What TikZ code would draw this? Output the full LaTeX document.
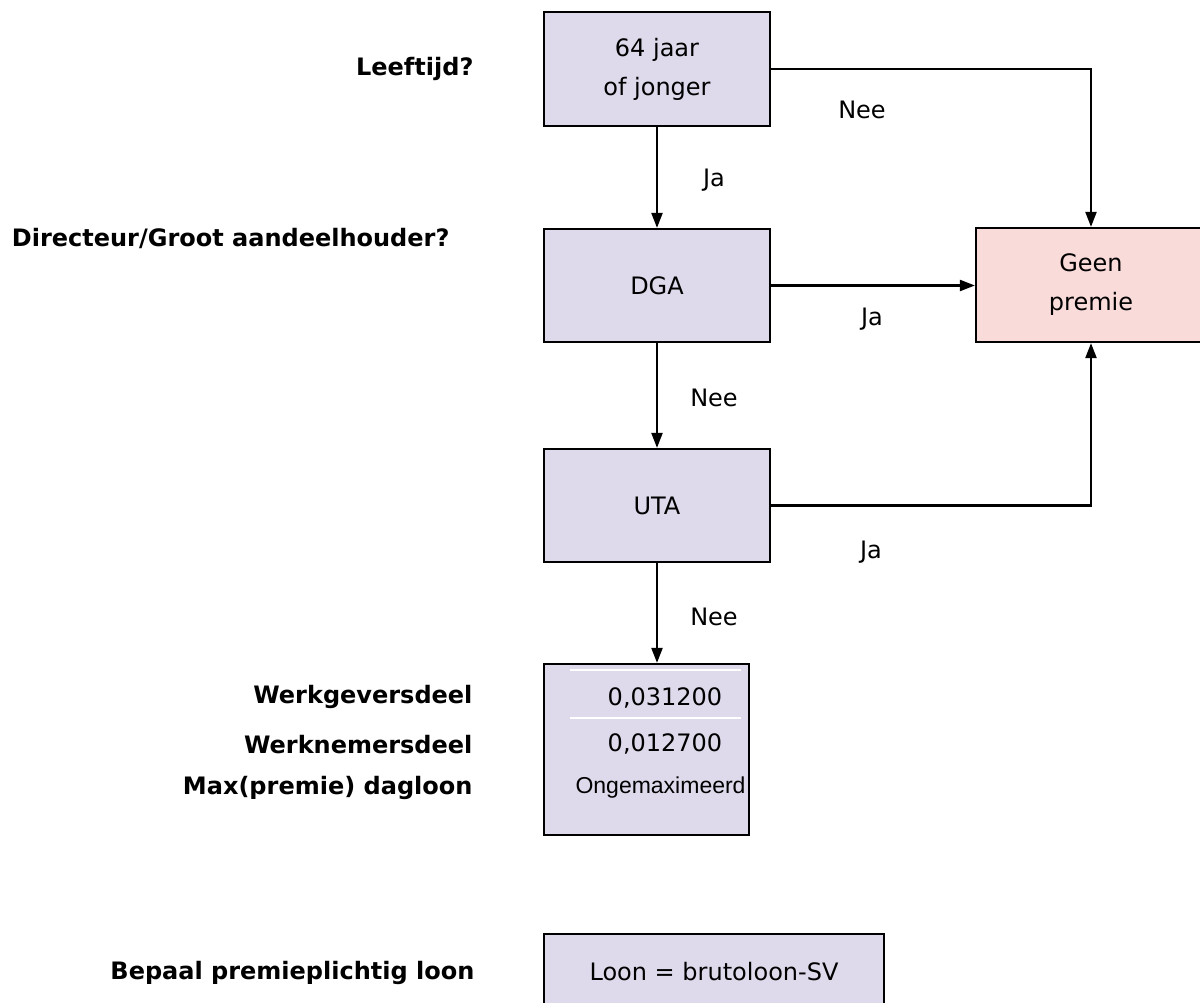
\documentclass[tikz,border=0pt]{standalone}
\usepackage{fontspec}
\setmainfont{DejaVu Sans}
\newfontfamily\arialfont{Liberation Sans}
\usetikzlibrary{arrows.meta}
\definecolor{boxlila}{RGB}{222,218,235}
\definecolor{boxroze}{RGB}{249,219,218}
\tikzset{
  vak/.style={draw=black, line width=2.2pt, fill=boxlila, rectangle, inner sep=0pt,
    align=center, font=\fontsize{24}{39}\selectfont},
  vraag/.style={anchor=east, font=\fontsize{24}{29}\selectfont\bfseries},
  keuze/.style={font=\fontsize{24}{29}\selectfont},
  pijl/.style={line width=2.2pt, -{Triangle[length=15pt,width=11pt]}}
}
\begin{document}
\begin{tikzpicture}[x=1pt, y=-1pt]
        \useasboundingbox (0,0) rectangle (1200,1003);
        % beslisboom
        \node[vak, minimum width=226pt, minimum height=114pt] (leeftijd) at (657,69) {64 jaar\\of jonger};
        \node[vak, minimum width=226pt, minimum height=113pt] (dga) at (657,285.5) {DGA};
        \node[vak, minimum width=226pt, minimum height=113pt] (uta) at (657,505.5) {UTA};
        \node[vak, minimum width=205pt, minimum height=171pt] (tarief) at (646.5,749.5) {};
        \node[vak, minimum width=340pt, minimum height=76pt] (loon) at (714,972) {Loon = brutoloon-SV};
        \node[vak, fill=boxroze, minimum width=230pt, minimum height=114pt] (geen) at (1091,285) {Geen\\premie};
        % tarieven
        \draw[white, line width=2pt] (570,669.5) -- (741,669.5); \draw[white, line width=2pt] (570,717.5) -- (741,717.5);
        \node[keuze] (wg) at (665,698) {0,031200};
        \node[keuze] (wn) at (665,744) {0,012700};
        \node[anchor=west, font=\fontsize{23}{28}\selectfont\arialfont] (max) at (572,788) {Ongemaximeerd};
        % vragen links
        \node[vraag] (q1) at (477,69) {Leeftijd?};
        \node[vraag] (q2) at (453,238) {Directeur/Groot aandeelhouder?};
        \node[vraag] (q3) at (476,697) {Werkgeversdeel};
        \node[vraag] (q4) at (476,745) {Werknemersdeel};
        \node[vraag] (q5) at (476,788) {Max(premie) dagloon};
        \node[vraag] (q6) at (478,973) {Bepaal premieplichtig loon};
        % pijlen
        \draw[pijl] (leeftijd.south) -- (dga.north);
        \draw[pijl] (dga.south) -- (uta.north);
        \draw[pijl] (uta.south) -- (tarief.north -| uta.south);
        \draw[pijl] (leeftijd.east) -| (geen.north);
        \draw[pijl] (dga.east) -- (dga.east -| geen.west);
        \draw[pijl] (uta.east) -| (geen.south);
        \foreach \t/\p in {Ja/{(714,180)}, Nee/{(714,398)}, Nee/{(714,617)}, Nee/{(862,110)}, Ja/{(872,319)}, Ja/{(871,552)}}
            \node[keuze] at \p {\t};
    \end{tikzpicture}
\end{document}
